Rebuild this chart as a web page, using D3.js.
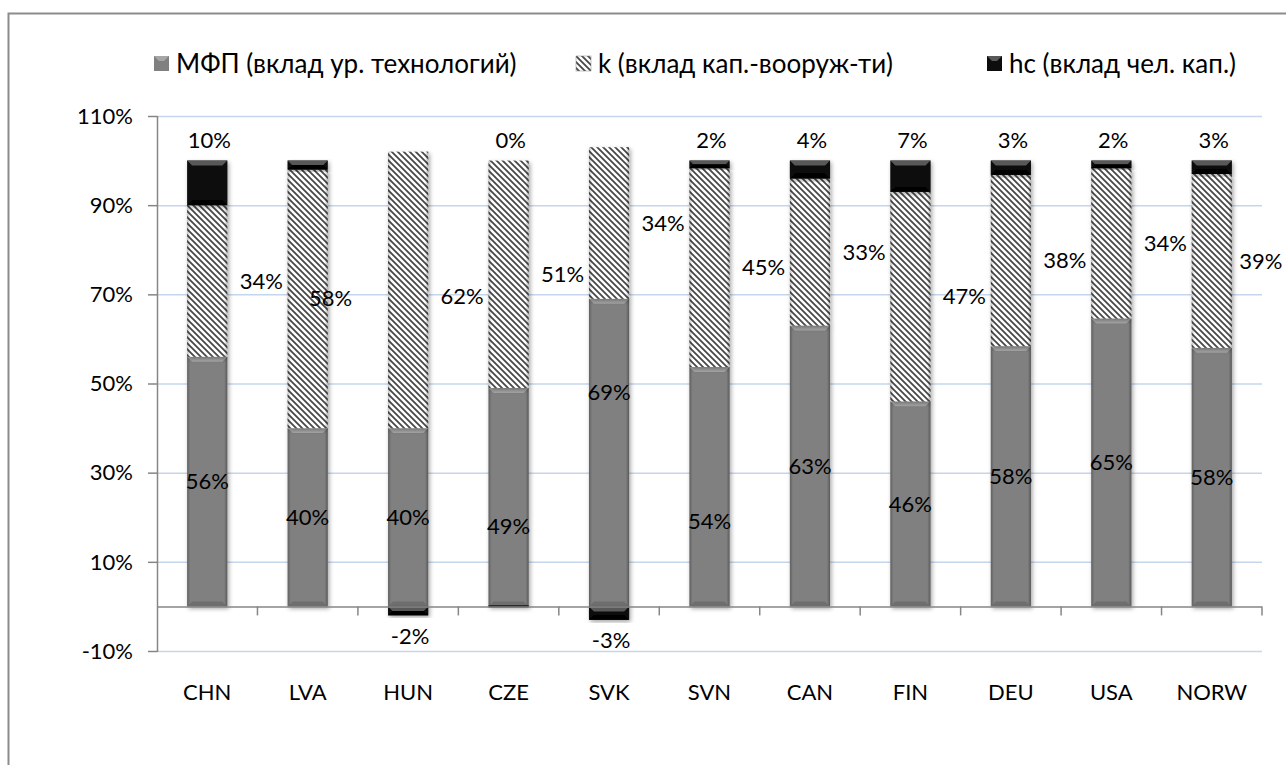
<!DOCTYPE html>
<html>
<head>
<meta charset="utf-8">
<script src="https://cdn.jsdelivr.net/npm/d3@7"></script>
<style>
  body { margin: 0; background: #fff; }
  svg { font-family: Lato, "Open Sans", sans-serif; }
</style>
</head>
<body>
<svg id="chart" width="1286" height="765"></svg>
<script>
// data (percent, labels are rounded)
const countries = ['CHN', 'LVA', 'HUN', 'CZE', 'SVK', 'SVN', 'CAN', 'FIN', 'DEU', 'USA', 'NORW'];
const mfp = [56, 40, 40, 49, 69, 53.7, 63, 46, 58.4, 64.6, 58];
const kap = [34, 58, 62, 51, 34, 44.6, 33, 47, 38.4, 33.7, 39];
const hc = [10, 2, -2, 0, -3, 1.7, 4, 7, 3.2, 1.7, 3];
const seriesNames = ['МФП (вклад ур. технологий)', 'k (вклад кап.-вооруж-ти)', 'hc (вклад чел. кап.)'];
const yTicks = [-10, 10, 30, 50, 70, 90, 110];

// hand-moved labels in the original (pixel nudges)
const mfpLabelDy = { SVK: -60, SVN: 35, CZE: 29 };
const kapLabelDx = { LVA: 23, NORW: 49 };
const kapLabelDy = { HUN: 6 };
const hcHidden = ['LVA'];

const svg = d3.select('#chart');
const plotLeft = 157, plotRight = 1262, plotTop = 116, plotBottom = 651;

const rows = countries.map((c, i) => ({ country: c, mfp: mfp[i], kap: kap[i], hc: hc[i] }));
const keys = ['mfp', 'kap', 'hc'];
const stacked = d3.stack().keys(keys).offset(d3.stackOffsetDiverging)(rows);

const x = d3.scaleBand().domain(countries).range([plotLeft, plotRight]).padding(0);
const barW = x.bandwidth() * 0.4;
const y = d3.scaleLinear().domain([-10, 110]).range([plotBottom, plotTop]);
const pct = v => Math.round(v) + '%';

// outer frame (left + top only, cropped chart)
svg.append('path')
    .attr('d', 'M8.5,765 L8.5,13.5 L1286,13.5')
    .attr('fill', 'none')
    .attr('stroke', '#8c8c8c')
    .attr('stroke-width', 2);

const defs = svg.append('defs');
const hatch = defs.append('pattern')
    .attr('id', 'hatch')
    .attr('patternUnits', 'userSpaceOnUse')
    .attr('width', 6).attr('height', 6);
hatch.append('rect').attr('width', 6).attr('height', 6).attr('fill', '#fff');
hatch.append('path')
    .attr('d', 'M0,0 L6,6 M-2,4 L2,8 M4,-2 L8,2')
    .attr('stroke', '#474747')
    .attr('stroke-width', 1.8);

const shadow = defs.append('filter').attr('id', 'shadow')
    .attr('x', '-30%').attr('y', '-10%').attr('width', '160%').attr('height', '130%');
shadow.append('feDropShadow')
    .attr('dx', 1.5).attr('dy', 2).attr('stdDeviation', 2)
    .attr('flood-color', '#000').attr('flood-opacity', 0.35);

const edge = defs.append('linearGradient').attr('id', 'edge').attr('x1', 0).attr('x2', 1);
edge.append('stop').attr('offset', 0).attr('stop-color', '#000').attr('stop-opacity', 0.25);
edge.append('stop').attr('offset', 0.08).attr('stop-color', '#000').attr('stop-opacity', 0);
edge.append('stop').attr('offset', 0.92).attr('stop-color', '#000').attr('stop-opacity', 0);
edge.append('stop').attr('offset', 1).attr('stop-color', '#000').attr('stop-opacity', 0.3);

// gridlines
svg.append('g').selectAll('line').data(yTicks).join('line')
    .attr('x1', plotLeft).attr('x2', plotRight)
    .attr('y1', d => y(d) + 0.5).attr('y2', d => y(d) + 0.5)
    .attr('stroke', '#c5d6ec').attr('stroke-width', 1.5);

// y axis
const yAxis = svg.append('g');
yAxis.append('line')
    .attr('x1', plotLeft + 0.5).attr('x2', plotLeft + 0.5)
    .attr('y1', plotTop).attr('y2', plotBottom + 1)
    .attr('stroke', '#868686').attr('stroke-width', 1.5);
yAxis.selectAll('.tk').data(yTicks).join('line')
    .attr('x1', plotLeft - 9).attr('x2', plotLeft)
    .attr('y1', d => y(d) + 0.5).attr('y2', d => y(d) + 0.5)
    .attr('stroke', '#868686').attr('stroke-width', 1.5);
yAxis.selectAll('text').data(yTicks).join('text')
    .attr('x', plotLeft - 24).attr('y', d => y(d))
    .attr('dy', '0.35em')
    .attr('text-anchor', 'end')
    .attr('font-size', 22)
    .attr('fill', '#000')
    .text(d => d + '%');

const fills = { mfp: '#808080', kap: 'url(#hatch)', hc: '#0d0d0d' };
const bevelFill = { mfp: '#a6a6a6', kap: 'rgba(255,255,255,0)', hc: '#595959' };
const bevelLow = { mfp: '#6e6e6e', kap: 'rgba(0,0,0,0)', hc: '#000' };

// bars
const layers = svg.append('g').selectAll('g').data(stacked).join('g');
const seg = layers.selectAll('g').data(d => d.map(v => ({ key: d.key, v, country: v.data.country }))).join('g')
    .attr('filter', 'url(#shadow)');

seg.each(function(d) {
    const g = d3.select(this);
    const y0 = y(Math.max(d.v[0], d.v[1]));
    const y1 = y(Math.min(d.v[0], d.v[1]));
    const h = y1 - y0;
    const x0 = x(d.country) + (x.bandwidth() - barW) / 2;
    if (h <= 0.1) {
        // zero value: thin line
        g.append('rect').attr('x', x0).attr('y', y0 - 1).attr('width', barW).attr('height', 2).attr('fill', '#000');
        return;
    }
    g.append('rect')
        .attr('x', x0).attr('y', y0).attr('width', barW).attr('height', h)
        .attr('fill', fills[d.key]);
    g.append('rect')
        .attr('x', x0).attr('y', y0).attr('width', barW).attr('height', h)
        .attr('fill', 'url(#edge)');
    const b = Math.min(5, h / 2);
    g.append('polygon')
        .attr('points', [[x0, y0], [x0 + barW, y0], [x0 + barW - b, y0 + b], [x0 + b, y0 + b]].join(' '))
        .attr('fill', bevelFill[d.key]);
    g.append('polygon')
        .attr('points', [[x0, y1], [x0 + barW, y1], [x0 + barW - b, y1 - b], [x0 + b, y1 - b]].join(' '))
        .attr('fill', bevelLow[d.key]);
});

// category axis at zero
const xAxis = svg.append('g');
xAxis.append('line')
    .attr('x1', plotLeft).attr('x2', plotRight)
    .attr('y1', y(0) + 0.5).attr('y2', y(0) + 0.5)
    .attr('stroke', '#868686').attr('stroke-width', 1.5);
xAxis.selectAll('.tk').data(countries.slice(1).concat(['end']))
    .join('line')
    .attr('x1', d => d === 'end' ? plotRight : x(d))
    .attr('x2', d => d === 'end' ? plotRight : x(d))
    .attr('y1', y(0)).attr('y2', y(0) + 9)
    .attr('stroke', '#868686').attr('stroke-width', 1.5);
xAxis.selectAll('text').data(countries).join('text')
    .attr('x', d => x(d) + x.bandwidth() / 2)
    .attr('y', plotBottom + 41).attr('dy', '0.35em')
    .attr('text-anchor', 'middle')
    .attr('font-size', 22)
    .text(d => d);

// data labels
const lbl = svg.append('g').attr('font-size', 22).attr('text-anchor', 'middle');
rows.forEach(r => {
    const cx = x(r.country) + x.bandwidth() / 2;
    lbl.append('text')
        .attr('x', cx)
        .attr('y', y(r.mfp / 2) + (mfpLabelDy[r.country] || 0))
        .attr('dy', '0.35em')
        .text(pct(r.mfp));
    lbl.append('text')
        .attr('x', cx + (kapLabelDx[r.country] || 54))
        .attr('y', y(r.mfp + r.kap / 2) + (kapLabelDy[r.country] || 0))
        .attr('dy', '0.35em')
        .text(pct(r.kap));
    if (hcHidden.includes(r.country)) return;
    const topV = r.hc >= 0 ? r.mfp + r.kap + r.hc : r.hc;
    lbl.append('text')
        .attr('x', cx + 2)
        .attr('y', r.hc >= 0 ? y(topV) - 20 : y(topV) + 21)
        .attr('dy', '0.35em')
        .text(pct(r.hc));
});

// legend
const legendX = [154, 576, 987];
const legend = svg.append('g');
keys.forEach((k, i) => {
    const g = legend.append('g').attr('transform', `translate(${legendX[i]},56)`);
    g.append('rect').attr('width', 15).attr('height', 15).attr('fill', fills[k])
        .attr('stroke', k === 'kap' ? '#888' : 'none').attr('stroke-width', 0.5);
    g.append('polygon').attr('points', '0,0 15,0 10,5 5,5').attr('fill', bevelFill[k]);
    g.append('text').attr('x', 22).attr('y', 8).attr('dy', '0.35em')
        .attr('font-size', 26).text(seriesNames[i]);
});
</script>
</body>
</html>
